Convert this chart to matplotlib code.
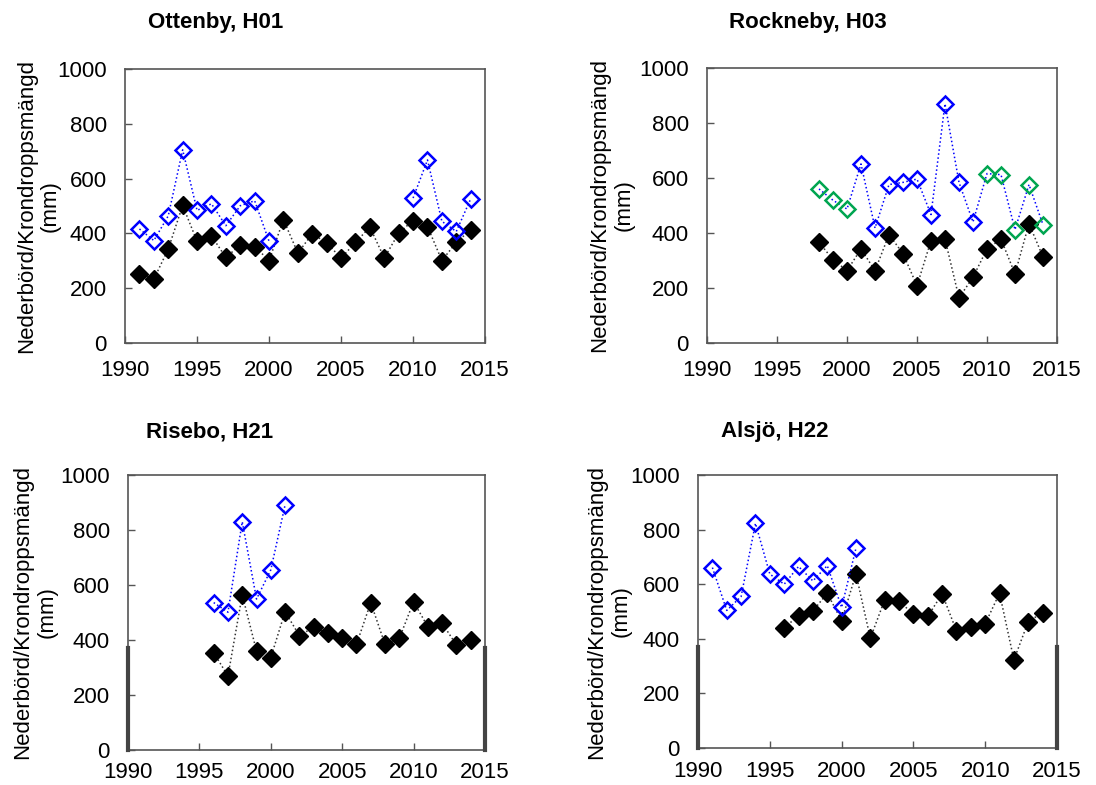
import numpy as np
import matplotlib
matplotlib.use("Agg")
import matplotlib.pyplot as plt

plt.rcParams['font.family'] = ['Liberation Sans', 'DejaVu Sans']

nan = np.nan

# Ottenby, H01
ott_years = np.arange(1991, 2015)
ott_krondropp = [253, 233, 343, 502, 371, 391, 312, 358, 352, 301, 450, 328, 399,
                 365, 310, 367, 423, 310, 401, 447, 425, 301, 367, 413]
ott_nederbord = [416, 374, 464, 705, 484, 508, 428, 501, 519, 371,
                 nan, nan, nan, nan, nan, nan, nan, nan, nan,
                 529, 668, 444, 407, 526]

# Rockneby, H03
rock_years = np.arange(1998, 2015)
rock_krondropp = [366, 303, 263, 342, 263, 394, 325, 208, 372, 378, 164, 239,
                  342, 378, 251, 434, 313]
rock_nederbord = [nan, nan, nan, 651, 418, 576, 584, 596, 467, 870, 584, 440,
                  nan, nan, nan, nan, nan]
rock_nederbord_2 = [560, 519, 487, nan, nan, nan, nan, nan, nan, nan, nan, nan,
                    616, 612, 412, 576, 430]

# Risebo, H21
rise_years = np.arange(1996, 2015)
rise_krondropp = [354, 269, 564, 360, 336, 503, 416, 446, 424, 406, 384, 536,
                  384, 406, 539, 448, 461, 382, 400]
rise_nederbord = [536, 501, 830, 549, 655, 891, nan, nan, nan, nan, nan, nan,
                  nan, nan, nan, nan, nan, nan, nan]

# Alsjö, H22
als_years = np.arange(1991, 2015)
als_krondropp = [nan, nan, nan, nan, nan,
                 441, 484, 502, 567, 466, 638, 402, 543, 537, 491, 482, 565,
                 429, 443, 455, 567, 323, 463, 496]
als_nederbord = [661, 504, 555, 823, 637, 600, 665, 612, 668, 515, 732,
                 nan, nan, nan, nan, nan, nan, nan, nan, nan, nan, nan, nan, nan]

ylab = 'Nederbörd/Krondroppsmängd\n(mm)'
blue = '#0000ff'
green = '#00a550'
frame = '#555555'

fig = plt.figure(figsize=(10.96, 7.85), dpi=100)

panels = [
    # rect, title, title x, title y, ylabel x, x tick pad
    ([0.1141, 0.5631, 0.3285, 0.3490], 'Ottenby, H01', 0.197, 0.971, -0.178, 12),
    ([0.6451, 0.5631, 0.3193, 0.3503], 'Rockneby, H03', 0.737, 0.971, -0.208, 12),
    ([0.1168, 0.0446, 0.3257, 0.3503], 'Risebo, H21', 0.191, 0.450, -0.198, 9),
    ([0.6369, 0.0471, 0.3275, 0.3478], 'Alsjö, H22', 0.707, 0.450, -0.186, 9),
]

axes = []
for rect, title, tx, ty, lx, xpad in panels:
    ax = fig.add_axes(rect)
    ax.set_xlim(1990, 2015)
    ax.set_ylim(0, 1000)
    ax.set_xticks([1990, 1995, 2000, 2005, 2010, 2015])
    ax.set_yticks([0, 200, 400, 600, 800, 1000])
    ax.tick_params(axis='both', direction='in', length=5, width=1, color=frame,
                   labelsize=16)
    ax.tick_params(axis='x', pad=xpad)
    ax.tick_params(axis='y', pad=13)
    for s in ax.spines.values():
        s.set_color(frame)
        s.set_linewidth(1.2)
    ax.set_ylabel(ylab, fontsize=16)
    ax.yaxis.set_label_coords(lx, 0.5)
    fig.text(tx, ty, title, fontsize=16, fontweight='bold', ha='center', va='center')
    axes.append(ax)

def draw_krondropp(ax, x, y):
    ax.plot(x, y, ls=':', lw=1.1, color='#333333', marker='D', ms=9,
            mfc='black', mec='black', zorder=3)

def draw_nederbord(ax, x, y, col=blue):
    ax.plot(x, y, ls=':', lw=1.1, color=blue, marker='D', ms=8.5,
            mfc='none', mec=col, mew=1.8, zorder=4)

draw_krondropp(axes[0], ott_years, ott_krondropp)
draw_nederbord(axes[0], ott_years, ott_nederbord)

draw_krondropp(axes[1], rock_years, rock_krondropp)
# one dotted line through both station series, markers coloured by source
rock_all = np.where(np.isnan(rock_nederbord), rock_nederbord_2, rock_nederbord)
axes[1].plot(rock_years, rock_all, ls=':', lw=1.1, color=blue, zorder=4)
axes[1].plot(rock_years, rock_nederbord, ls='none', marker='D', ms=8.5,
             mfc='none', mec=blue, mew=1.8, zorder=5)
axes[1].plot(rock_years, rock_nederbord_2, ls='none', marker='D', ms=8.5,
             mfc='none', mec=green, mew=1.8, zorder=5)

draw_krondropp(axes[2], rise_years, rise_krondropp)
draw_nederbord(axes[2], rise_years, rise_nederbord)

draw_krondropp(axes[3], als_years, als_krondropp)
draw_nederbord(axes[3], als_years, als_nederbord)

# heavier lower part of the side frame on the bottom row
for ax in axes[2:]:
    for xs in (0, 1):
        ax.plot([xs, xs], [0, 0.37], transform=ax.transAxes, color='#444444',
                lw=3, clip_on=False, zorder=6)

fig.savefig('out.png', dpi=100)
